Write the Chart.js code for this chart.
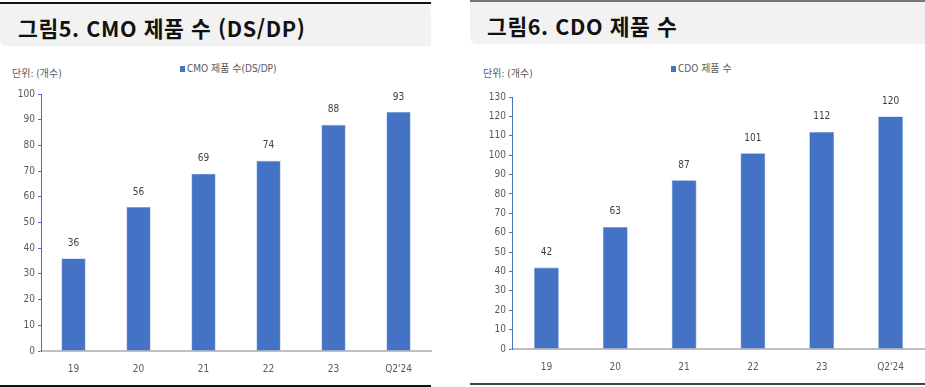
<!DOCTYPE html>
<html lang="ko">
<head>
<meta charset="utf-8">
<script src="https://cdn.jsdelivr.net/npm/chart.js@4/dist/chart.umd.min.js"></script>
<style>
  html, body { margin: 0; padding: 0; background: #fff; }
  body { width: 925px; height: 387px; position: relative; overflow: hidden;
         font-family: "Noto Sans CJK KR", "Noto Sans", sans-serif; }
  .abs { position: absolute; }
  .title { font-weight: 700; font-size: 21.5px; color: #111; white-space: nowrap; letter-spacing: 0.6px; }
  .small { font-family: "DejaVu Sans Condensed", "Noto Sans CJK KR", sans-serif; font-size: 10px; color: #595959; white-space: nowrap; }
  .sq { display: inline-block; width: 5px; height: 6px; background: #4472c4; margin-right: 2px; vertical-align: 0px; }
  canvas { position: absolute; top: 0; }
</style>
</head>
<body>
<!-- left panel frame -->
<div class="abs" style="left:0;top:2px;width:431px;height:2px;background:#111"></div>
<div class="abs" style="left:0;top:4px;width:431px;height:42px;background:#f2f2f2;border-radius:0 7px 0 7px"></div>
<div class="abs title" style="left:18px;top:12px">그림5. CMO 제품 수 (DS/DP)</div>
<div class="abs" style="left:0;top:385px;width:431px;height:2px;background:#111"></div>
<div class="abs small" style="left:12px;top:65px">단위: (개수)</div>
<div class="abs small" style="left:180px;top:60px"><span class="sq"></span>CMO 제품 수(DS/DP)</div>

<!-- right panel frame -->
<div class="abs" style="left:470px;top:0;width:455px;height:2px;background:#777"></div>
<div class="abs" style="left:470px;top:2px;width:455px;height:42px;background:#f2f2f2;border-radius:0 0 0 7px"></div>
<div class="abs title" style="left:487px;top:10px">그림6. CDO 제품 수</div>
<div class="abs" style="left:470px;top:383px;width:455px;height:1.5px;background:#444"></div>
<div class="abs small" style="left:483px;top:65px">단위: (개수)</div>
<div class="abs small" style="left:671px;top:60px"><span class="sq"></span>CDO 제품 수</div>

<canvas id="cmoChart" style="left:0" width="440" height="387"></canvas>
<canvas id="cdoChart" style="left:465px" width="460" height="387"></canvas>

<script>
// categories and values
const years = ['19', '20', '21', '22', '23', "Q2'24"];
const cmoCounts = [36, 56, 69, 74, 88, 93];
const cdoCounts = [42, 63, 87, 101, 112, 120];
const cmoTicks = [0, 100, 10];   // min, max, step
const cdoTicks = [0, 130, 10];

const blue = '#4472c4';
const labelFont = { family: '"DejaVu Sans Condensed", "Noto Sans CJK KR", sans-serif', size: 10 };

// value labels above each bar
const valueLabels = {
  id: 'valueLabels',
  afterDatasetsDraw(chart) {
    const ctx = chart.ctx;
    const meta = chart.getDatasetMeta(0);
    const data = chart.data.datasets[0].data;
    ctx.save();
    ctx.font = '10px ' + labelFont.family;
    ctx.fillStyle = '#404040';
    ctx.textAlign = 'center';
    ctx.textBaseline = 'middle';
    meta.data.forEach((bar, i) => {
      ctx.fillText(data[i], bar.x, bar.y - 15);
    });
    ctx.restore();
  }
};

function makeChart(id, values, ticks, opts) {
  return new Chart(document.getElementById(id), {
    type: 'bar',
    data: {
      labels: years,
      datasets: [{
        data: values,
        backgroundColor: blue,
        borderColor: '#6f93d3',
        borderWidth: 0.6,
        categoryPercentage: 1,
        barPercentage: opts.barPct
      }]
    },
    options: {
      responsive: false,
      animation: false,
      events: [],
      layout: { padding: { top: opts.top, right: opts.right, left: 0, bottom: opts.bottom } },
      plugins: { legend: { display: false }, tooltip: { enabled: false } },
      scales: {
        x: {
          grid: { display: false, drawTicks: false },
          border: { display: true, color: '#bfbfbf', width: 2 },
          ticks: { color: '#595959', font: labelFont, padding: 12, maxRotation: 0 },
          afterFit(scale) { scale.height = 30; }
        },
        y: {
          min: ticks[0],
          max: ticks[1],
          grid: { display: true, drawOnChartArea: false, drawTicks: true, tickLength: 3, color: blue },
          border: { display: true, color: blue, width: 1 },
          ticks: { stepSize: ticks[2], color: '#595959', font: labelFont, padding: 3 },
          afterFit(scale) { scale.width = opts.yWidth; }
        }
      }
    },
    plugins: [valueLabels]
  });
}

makeChart('cmoChart', cmoCounts, cmoTicks, { barPct: 0.37, top: 94, right: 9, bottom: 6, yWidth: 41 });
makeChart('cdoChart', cdoCounts, cdoTicks, { barPct: 0.36, top: 97, right: 0, bottom: 8, yWidth: 47 });
</script>
</body>
</html>
